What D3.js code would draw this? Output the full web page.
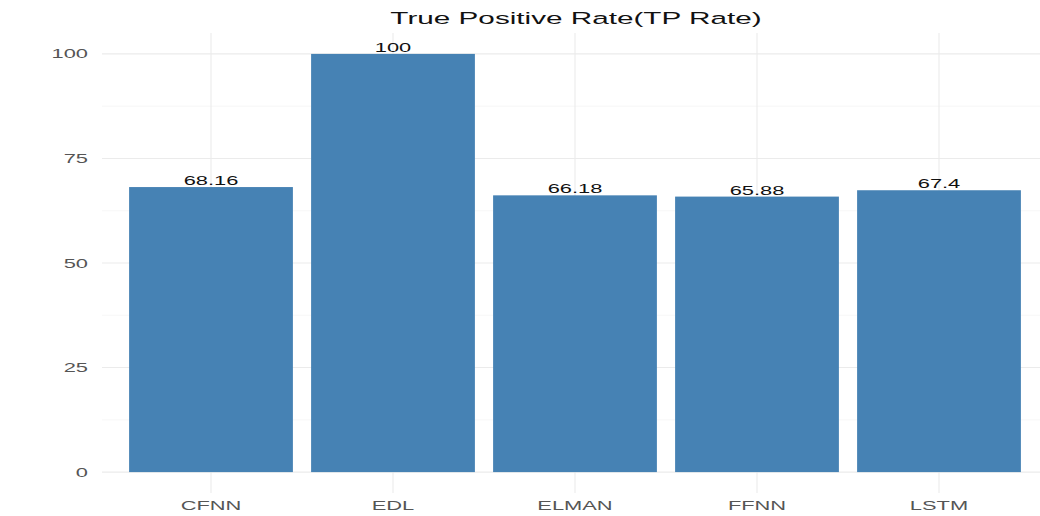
<!DOCTYPE html>
<html><head><meta charset="utf-8">
<script src="https://cdn.jsdelivr.net/npm/d3@7"></script>
<style>body{margin:0;background:#fff;} svg{display:block;font-family:"Liberation Sans",Arial,sans-serif;}</style>
</head><body>
<svg id="chart" width="1040" height="516"></svg>
<script>
const categories = ["CFNN","EDL","ELMAN","FFNN","LSTM"];
const values = [68.16, 100, 66.18, 65.88, 67.4];
const valueLabels = ["68.16","100","66.18","65.88","67.4"];
const yTicks = [0,25,50,75,100];
const yMinor = [12.5,37.5,62.5,87.5];
const title = "True Positive Rate(TP Rate)";

const svg = d3.select("#chart");
const W = 1040, H = 516;
const SX = 1.75;
const panel = {left:102, right:1047, top:33, bottom:493};

const x = d3.scaleBand().domain(categories).range([120,1030]).paddingInner(0.1).paddingOuter(0.05);
const y = d3.scaleLinear().domain([-5,105]).range([panel.bottom, panel.top]);

svg.append("rect").attr("width",W).attr("height",H).attr("fill","#fff");

const g = svg.append("g");
// minor grid
g.selectAll(".minor").data(yMinor).join("line")
  .attr("x1",panel.left).attr("x2",panel.right)
  .attr("y1",d=>y(d)).attr("y2",d=>y(d))
  .attr("stroke","#f5f5f5").attr("stroke-width",0.8);
// major grid
g.selectAll(".major").data(yTicks).join("line")
  .attr("x1",panel.left).attr("x2",panel.right)
  .attr("y1",d=>y(d)).attr("y2",d=>y(d))
  .attr("stroke","#ebebeb").attr("stroke-width",1.1);
g.selectAll(".vgrid").data(categories).join("line")
  .attr("x1",d=>x(d)+x.bandwidth()/2).attr("x2",d=>x(d)+x.bandwidth()/2)
  .attr("y1",panel.top).attr("y2",panel.bottom)
  .attr("stroke","#ebebeb").attr("stroke-width",1.1);

// bars
g.selectAll(".bar").data(categories).join("rect")
  .attr("x",d=>x(d)).attr("width",x.bandwidth())
  .attr("y",(d,i)=>y(values[i])).attr("height",(d,i)=>y(0)-y(values[i]))
  .attr("fill","#4682b4");

function stretchText(sel, tx, ty){
  sel.attr("transform",(d,i)=>`translate(${tx(d,i)},${ty(d,i)}) scale(${SX},1)`);
}

// bar labels
const bl = g.selectAll(".bl").data(categories).join("text")
  .attr("text-anchor","middle").attr("font-size",12.5).attr("fill","#111")
  .text((d,i)=>valueLabels[i]);
stretchText(bl, d=>x(d)+x.bandwidth()/2, (d,i)=>y(values[i])-2);

// y axis labels
const yl = g.selectAll(".yl").data(yTicks).join("text")
  .attr("text-anchor","end").attr("font-size",12.5).attr("fill","#555")
  .text(d=>d);
stretchText(yl, d=>88, d=>y(d)+4.5);

// x axis labels
const xl = g.selectAll(".xl").data(categories).join("text")
  .attr("text-anchor","middle").attr("font-size",12.5).attr("fill","#555")
  .text(d=>d);
stretchText(xl, d=>x(d)+x.bandwidth()/2, d=>510);

// title
svg.append("text").attr("text-anchor","middle").attr("font-size",16.5).attr("fill","#111")
  .attr("transform",`translate(576,24) scale(1.8,1)`).text(title);
</script>
</body></html>
